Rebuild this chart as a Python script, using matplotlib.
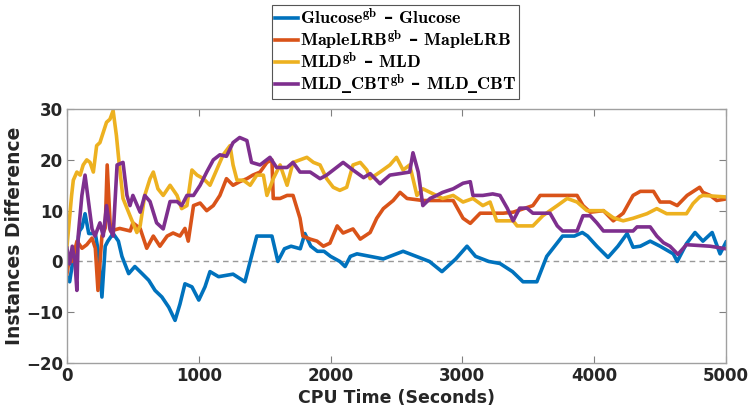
import numpy as np
import matplotlib
matplotlib.use("Agg")
from matplotlib import pyplot as plt

# values (time in s, difference in instances)
t_glucose = [0, 20, 38, 60, 76, 95, 114, 137, 165, 215, 240, 265, 290, 310, 350, 390, 417, 468, 515,
             570, 620, 668, 720, 772, 820, 857, 895, 948, 1000, 1047, 1085, 1150, 1260, 1350, 1390,
             1440, 1500, 1555, 1600, 1650, 1700, 1770, 1805, 1850, 1900, 1950, 2000, 2070, 2110,
             2150, 2200, 2300, 2400, 2550, 2650, 2750, 2845, 2950, 3035, 3100, 3200, 3285, 3380,
             3460, 3565, 3640, 3700, 3760, 3850, 3910, 3950, 4020, 4105, 4180, 4250, 4295, 4350,
             4425, 4500, 4600, 4630, 4700, 4765, 4825, 4895, 4955, 5000]
d_glucose = [-3, -4, -1, 1, 3, 6, 6.7, 9.4, 5.5, 5.5, 1.5, -7, 3, 4, 5.5, 4, 1, -2.4, -1,
             -2.4, -3.7, -5.7, -7, -9, -11.6, -8.4, -4.4, -5, -7.6, -5, -2, -3, -2.5, -4, 0,
             5, 5, 5, 0, 2.5, 3, 2.5, 5.5, 3, 2, 2, 1, 0, -1,
             1, 1.5, 1, 0.5, 2, 1, 0, -2, 0.5, 3, 1, 0, -0.4, -2,
             -4, -4, 1, 3, 5, 5, 5.7, 5, 3, 0.8, 3, 5.5, 2.8, 3,
             4, 3, 1.5, 0, 3.5, 5.7, 4, 5.7, 1.5, 3.8]

t_maple = [0, 20, 38, 76, 114, 150, 190, 215, 235, 265, 290, 305, 330, 400, 480, 500, 555, 605, 655,
           705, 760, 805, 857, 895, 920, 960, 1010, 1060, 1110, 1160, 1210, 1260, 1310, 1365, 1410,
           1465, 1517, 1555, 1565, 1617, 1670, 1715, 1768, 1790, 1845, 1897, 1945, 1995, 2050,
           2095, 2170, 2225, 2300, 2350, 2400, 2475, 2527, 2580, 2700, 2830, 2930, 3005, 3060,
           3135, 3310, 3385, 3535, 3590, 3870, 3915, 3970, 4070, 4145, 4220, 4295, 4350, 4450,
           4500, 4575, 4630, 4705, 4800, 4825, 4880, 4930, 5000]
d_maple = [-2.4, 1, 0, 4, 2.6, 3.3, 4.6, 2.6, -5.7, 5, 6.6, 19, 6, 6.5, 6, 7.6, 6.5, 2.6, 5,
           3, 5, 5.6, 5, 6.5, 4, 11, 11.5, 10, 11, 13, 16.3, 15, 15.7, 16.3, 17,
           17.6, 19.5, 20, 12.4, 12.4, 13, 13, 8.5, 5, 4.4, 4, 3, 3.6, 7,
           5.6, 6.4, 4.4, 5.7, 8.5, 10.4, 12, 13.6, 12.4, 12, 12, 12, 8.5, 7.5,
           9.5, 9.5, 9.7, 11, 13, 13, 11, 9.7, 10, 8, 9.5, 13, 13.8, 13.8,
           11.7, 11.7, 11, 13, 14.6, 13.6, 13, 12, 12.3]

t_mld = [0, 35, 48, 75, 100, 123, 150, 175, 200, 225, 250, 275, 300, 326, 350, 375, 395, 425, 478,
         530, 555, 590, 630, 655, 690, 730, 782, 835, 870, 910, 948, 987, 1035, 1085, 1135, 1185,
         1237, 1260, 1290, 1337, 1390, 1440, 1490, 1517, 1565, 1617, 1670, 1715, 1768, 1820, 1870,
         1920, 1970, 2020, 2070, 2122, 2170, 2225, 2275, 2300, 2375, 2450, 2500, 2550, 2600,
         2625, 2655, 2700, 2755, 2850, 2930, 3005, 3080, 3155, 3210, 3260, 3385, 3415, 3535,
         3610, 3720, 3795, 3870, 3945, 4070, 4145, 4220, 4295, 4400, 4475, 4550, 4700, 4750,
         4800, 4825, 5000]
d_mld = [3, 13, 16, 17.6, 17, 19, 20, 19.5, 17.6, 22.8, 23.4, 25.4, 27.4, 28, 29.7, 24.8, 19.5, 12.4, 9,
         5.7, 7, 13, 16.3, 17.6, 14.3, 13, 15, 13, 10.4, 11, 18, 17, 16.3, 15, 18, 21,
         22.8, 19, 16, 16, 15, 17, 17, 13, 16.3, 19, 15, 19.5, 20, 20.5, 19.5,
         19, 16.3, 14.6, 14, 14.6, 19, 19.5, 18, 16.3, 17.6, 19, 20.5, 18, 19,
         16.3, 13, 14.3, 13.6, 12.4, 13, 11.7, 12.4, 11, 11.7, 8, 8, 7, 7,
         9, 11, 12.4, 11.7, 10, 10, 8.6, 8, 8.5, 9.4, 10.4, 9.4, 9.4, 11.4,
         12.7, 13, 12.7]

t_cbt = [0, 20, 40, 60, 75, 85, 113, 137, 160, 190, 212, 250, 275, 300, 326, 350, 380, 425, 455,
         478, 500, 555, 590, 630, 680, 730, 782, 835, 870, 910, 960, 1010, 1060, 1110, 1160, 1210,
         1260, 1310, 1365, 1400, 1465, 1540, 1590, 1670, 1715, 1768, 1845, 1920, 1970, 2020,
         2095, 2170, 2250, 2300, 2375, 2450, 2527, 2600, 2625, 2665, 2700, 2755, 2805, 2850,
         2930, 3005, 3060, 3080, 3155, 3230, 3285, 3340, 3385, 3435, 3490, 3535, 3665, 3720,
         3760, 3870, 3915, 3970, 4020, 4070, 4145, 4295, 4325, 4425, 4475, 4525, 4575, 4635,
         4700, 4880, 5000]
d_cbt = [2.6, -0.5, 3, 0, -5.7, 5, 13, 17, 12.4, 6.4, 5, 7.6, 5, 11, 6.4, 5, 19, 19.5, 13,
         11, 13, 9.7, 13, 11.8, 7.6, 6.4, 11.8, 11.8, 11, 13, 13, 15, 17.6, 20, 21, 20.7,
         23.4, 24.4, 23.8, 19.5, 19, 20.5, 18.5, 18.5, 19.5, 17.6, 17.6, 16.3, 17, 18,
         19.5, 18, 16.5, 17.3, 15.3, 17, 17.3, 17.6, 21.4, 17.6, 11, 12.4, 13, 13.6,
         14.3, 15.4, 15.7, 13, 13, 13.3, 13, 10.5, 8, 10.5, 10.5, 9.5, 9.5, 7,
         6, 6, 9, 9, 7.6, 6, 6, 6, 6.8, 6.8, 5, 3.7, 3, 1.4,
         3.3, 3, 2.5]

series = [
    (t_glucose, d_glucose, r'$\mathbf{Glucose}^{\mathbf{gb}}$ – $\mathbf{Glucose}$', '#0072BD'),
    (t_maple, d_maple, r'$\mathbf{MapleLRB}^{\mathbf{gb}}$ – $\mathbf{MapleLRB}$', '#D95319'),
    (t_mld, d_mld, r'$\mathbf{MLD}^{\mathbf{gb}}$ – $\mathbf{MLD}$', '#EDB120'),
    (t_cbt, d_cbt, r'$\mathbf{MLD}$_$\mathbf{CBT}^{\mathbf{gb}}$ – $\mathbf{MLD}$_$\mathbf{CBT}$', '#7E2F8E'),
]

plt.rcParams['mathtext.fontset'] = 'cm'

fig = plt.figure(figsize=(7.51, 4.07), dpi=100)
ax = fig.add_axes([0.0892, 0.108, 0.8775, 0.624])

ax.axhline(0, color='#999999', linestyle='--', linewidth=1, dashes=(4, 3), zorder=1)
lines = []
for t, d, lab, col in series:
    ln, = ax.plot(t, d, color=col, linewidth=2.6, label=lab, zorder=2)
    lines.append(ln)

ax.set_xlim(0, 5000)
ax.set_ylim(-20, 30)
ax.set_xticks([0, 1000, 2000, 3000, 4000, 5000])
ax.set_yticks([-20, -10, 0, 10, 20, 30])
ax.tick_params(direction='in', top=True, right=True, length=5, color='#808080',
               labelsize=12, labelcolor='#262626', pad=3)
for lbl in ax.get_xticklabels() + ax.get_yticklabels():
    lbl.set_fontweight('bold')
for sp in ax.spines.values():
    sp.set_color('#a0a0a0')
    sp.set_linewidth(1)

ax.set_xlabel('CPU Time (Seconds)', fontsize=12.5, fontweight='bold', color='#262626', labelpad=3)
ax.set_ylabel('Instances Difference', fontsize=13.5, fontweight='bold', color='#262626', labelpad=1)

leg = fig.legend(handles=lines, loc='upper center', bbox_to_anchor=(0.527, 0.988),
                 prop={'family': 'DejaVu Serif', 'weight': 'bold', 'size': 13},
                 fancybox=False, edgecolor='#555555', framealpha=1,
                 handlelength=1.3, handletextpad=0.08, labelspacing=0.0,
                 borderpad=0.15, borderaxespad=0)
leg.get_frame().set_linewidth(0.8)

fig.savefig('out.png', dpi=100)
